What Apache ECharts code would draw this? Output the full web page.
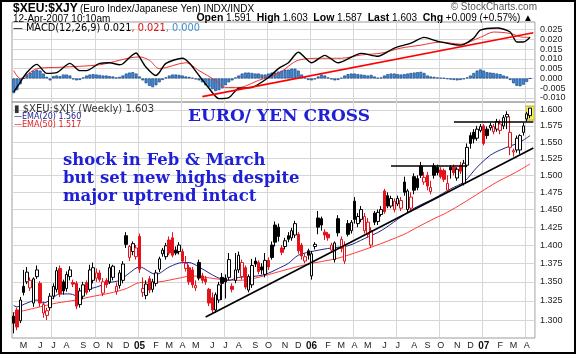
<!DOCTYPE html>
<html>
<head>
<meta charset="utf-8">
<script src="https://cdn.jsdelivr.net/npm/echarts@6.0.0/dist/echarts.min.js"></script>
<style>
  html, body { margin: 0; padding: 0; background: #fff; }
  #chart { width: 576px; height: 354px; }
</style>
</head>
<body>
<div id="chart"></div>
<script>
// weekly bars, first week starts Mon 12-Apr-2004, one empty slot kept at the right edge
const weekCount = 158;

const opens = [
  1.305,1.313,1.299,1.344,1.350,1.342,1.322,1.357,1.348,1.309,1.306,1.316,1.331,1.340,1.368,1.350,1.341,1.357,1.349,1.348,
  1.320,1.331,1.349,1.340,1.352,1.355,1.362,1.335,1.352,1.350,1.356,1.337,1.345,1.352,1.413,1.383,1.391,1.384,1.412,1.336,
  1.332,1.354,1.340,1.348,1.367,1.388,1.384,1.407,1.410,1.393,1.391,1.391,1.368,1.369,1.366,1.342,1.376,1.358,1.354,1.340,
  1.329,1.313,1.326,1.356,1.355,1.356,1.344,1.352,1.366,1.357,1.369,1.339,1.346,1.378,1.376,1.370,1.360,1.379,1.400,1.428,
  1.425,1.396,1.398,1.413,1.410,1.414,1.415,1.400,1.378,1.392,1.358,1.398,1.438,1.437,1.418,1.415,1.393,1.380,1.437,1.395,
  1.378,1.430,1.420,1.462,1.430,1.436,1.420,1.415,1.400,1.445,1.433,1.443,1.477,1.470,1.455,1.450,1.458,1.452,1.490,1.450,
  1.452,1.498,1.495,1.514,1.490,1.500,1.476,1.514,1.512,1.508,1.507,1.478,1.512,1.512,1.496,1.515,1.488,1.515,1.560,1.565,
  1.556,1.568,1.575,1.570,1.572,1.566,1.570,1.568,1.575,1.589,1.542,1.535,1.538,1.538,1.565,1.586,1.591
];
const highs = [
  1.310,1.316,1.330,1.366,1.370,1.356,1.356,1.372,1.351,1.324,1.316,1.335,1.348,1.370,1.372,1.353,1.364,1.371,1.353,1.351,
  1.342,1.350,1.352,1.373,1.376,1.368,1.366,1.355,1.355,1.374,1.373,1.349,1.366,1.378,1.418,1.400,1.405,1.400,1.416,1.356,
  1.352,1.358,1.354,1.366,1.384,1.396,1.403,1.412,1.418,1.398,1.404,1.395,1.385,1.373,1.370,1.352,1.380,1.362,1.358,1.342,
  1.336,1.336,1.350,1.362,1.360,1.389,1.348,1.389,1.391,1.380,1.372,1.360,1.381,1.383,1.379,1.375,1.389,1.383,1.405,1.433,
  1.430,1.400,1.410,1.418,1.424,1.434,1.418,1.403,1.388,1.395,1.392,1.404,1.448,1.440,1.422,1.418,1.403,1.405,1.442,1.412,
  1.405,1.435,1.435,1.468,1.445,1.455,1.445,1.438,1.425,1.448,1.450,1.455,1.480,1.475,1.470,1.466,1.470,1.468,1.498,1.480,
  1.475,1.503,1.500,1.520,1.505,1.505,1.492,1.518,1.516,1.512,1.510,1.500,1.515,1.516,1.512,1.520,1.523,1.548,1.565,1.570,
  1.575,1.578,1.578,1.574,1.580,1.578,1.586,1.585,1.592,1.598,1.590,1.540,1.560,1.562,1.580,1.597,1.603
];
const lows = [
  1.283,1.287,1.296,1.332,1.347,1.338,1.317,1.354,1.317,1.303,1.300,1.312,1.327,1.336,1.330,1.333,1.337,1.352,1.343,1.314,
  1.316,1.327,1.333,1.337,1.348,1.350,1.350,1.331,1.342,1.347,1.352,1.333,1.341,1.348,1.396,1.378,1.386,1.380,1.362,1.330,
  1.327,1.335,1.336,1.344,1.363,1.384,1.380,1.386,1.383,1.386,1.387,1.375,1.364,1.346,1.342,1.338,1.352,1.348,1.346,1.318,
  1.308,1.309,1.322,1.326,1.328,1.352,1.336,1.348,1.362,1.353,1.340,1.336,1.342,1.370,1.360,1.360,1.356,1.366,1.380,1.398,
  1.405,1.386,1.394,1.404,1.406,1.410,1.388,1.380,1.375,1.380,1.353,1.394,1.415,1.420,1.407,1.406,1.390,1.376,1.412,1.390,
  1.374,1.412,1.416,1.430,1.425,1.432,1.416,1.410,1.396,1.428,1.428,1.440,1.444,1.452,1.452,1.446,1.455,1.448,1.470,1.446,
  1.448,1.472,1.478,1.496,1.486,1.478,1.472,1.495,1.500,1.495,1.490,1.474,1.495,1.500,1.492,1.502,1.485,1.512,1.540,1.548,
  1.552,1.565,1.545,1.555,1.568,1.562,1.566,1.562,1.570,1.570,1.530,1.528,1.534,1.532,1.560,1.582,1.587
];
const closes = [
  1.296,1.291,1.326,1.336,1.363,1.352,1.354,1.366,1.322,1.320,1.312,1.331,1.344,1.365,1.334,1.338,1.360,1.366,1.347,1.318,
  1.338,1.346,1.336,1.366,1.369,1.362,1.353,1.350,1.346,1.369,1.371,1.344,1.362,1.374,1.401,1.398,1.402,1.396,1.367,1.341,
  1.347,1.339,1.350,1.362,1.381,1.393,1.399,1.389,1.386,1.389,1.400,1.378,1.375,1.350,1.346,1.345,1.355,1.352,1.350,1.322,
  1.313,1.333,1.346,1.348,1.350,1.380,1.340,1.366,1.386,1.376,1.343,1.357,1.372,1.374,1.364,1.366,1.379,1.370,1.383,1.404,
  1.412,1.390,1.406,1.408,1.420,1.430,1.392,1.385,1.384,1.386,1.388,1.401,1.425,1.428,1.414,1.410,1.400,1.403,1.417,1.408,
  1.400,1.415,1.432,1.436,1.440,1.450,1.440,1.432,1.420,1.432,1.446,1.450,1.447,1.455,1.466,1.462,1.466,1.463,1.475,1.477,
  1.468,1.478,1.482,1.500,1.497,1.484,1.482,1.500,1.504,1.498,1.494,1.488,1.508,1.504,1.509,1.506,1.518,1.542,1.548,1.555,
  1.570,1.574,1.548,1.560,1.576,1.574,1.582,1.578,1.588,1.593,1.565,1.537,1.556,1.560,1.575,1.594,1.603
];

// moving averages and MACD: [week index, value]
const ema20Pts = [
  [0,1.319],[1,1.317],[4,1.322],[7,1.326],[9,1.322],[11,1.326],[14,1.334],[17,1.334],[20,1.330],[22,1.339],
  [25,1.343],[29,1.349],[32,1.352],[35,1.362],[38,1.370],[43,1.360],[47,1.370],[51,1.376],[53,1.376],[56,1.370],
  [59,1.362],[62,1.355],[65,1.352],[68,1.356],[72,1.357],[76,1.360],[80,1.368],[83,1.375],[86,1.386],[91,1.392],
  [96,1.396],[101,1.399],[106,1.409],[111,1.420],[116,1.436],[121,1.452],[127,1.466],[132,1.480],[136,1.490],
  [140,1.512],[144,1.530],[147,1.538],[150,1.544],[153,1.550],[156,1.560]
];
const ema50Pts = [
  [0,1.309],[3,1.312],[8,1.317],[13,1.322],[19,1.326],[23,1.330],[29,1.335],[34,1.341],[38,1.349],[44,1.350],
  [50,1.355],[54,1.358],[58,1.356],[63,1.353],[68,1.352],[73,1.355],[78,1.361],[88,1.373],[98,1.382],[108,1.397],
  [118,1.415],[122,1.425],[127,1.437],[131,1.446],[136,1.460],[141,1.475],[146,1.490],[150,1.500],[153,1.508],[156,1.517]
];
const macdPts = [
  [0,-0.0070],[1,-0.0045],[4,0.0030],[7,0.0072],[10,0.0026],[13,0.0030],[17,0.0077],[20,0.0040],[22,0.0040],
  [26,0.0077],[29,0.0080],[32,0.0070],[33,0.0075],[37,0.0130],[38,0.0110],[40,0.0057],[43,0.0015],[44,0.0030],
  [46,0.0077],[51,0.0103],[53,0.0080],[56,0.0015],[59,-0.0050],[62,-0.0103],[65,-0.0098],[68,-0.0050],[72,-0.0046],
  [77,0.0005],[80,0.0050],[83,0.0080],[86,0.0134],[90,0.0080],[94,0.0118],[98,0.0080],[105,0.0128],[110,0.0113],
  [115,0.0155],[120,0.0180],[124,0.0210],[128,0.0190],[135,0.0170],[139,0.0206],[141,0.0247],[146,0.0258],
  [150,0.0237],[152,0.0186],[154,0.0186],[156,0.0210]
];
const signalPts = [
  [0,0.0040],[2,0.0000],[7,0.0050],[14,0.0057],[26,0.0070],[38,0.0110],[41,0.0093],[44,0.0050],[52,0.0080],
  [56,0.0040],[61,-0.0010],[64,-0.0046],[68,-0.0046],[74,-0.0010],[80,0.0026],[86,0.0093],[93,0.0103],[99,0.0103],
  [105,0.0120],[111,0.0129],[117,0.0155],[123,0.0170],[129,0.0186],[135,0.0175],[141,0.0210],[145,0.0237],
  [150,0.0230],[154,0.0210],[156,0.0210]
];
const histVals = [
  -0.0075,-0.0060,-0.0030,0.0000,0.0020,0.0030,0.0040,0.0045,0.0040,0.0025,0.0008,-0.0010,0.0012,0.0015,0.0012,0.0020,
  0.0020,0.0015,-0.0005,-0.0010,-0.0008,0.0005,0.0015,0.0020,0.0022,0.0020,0.0018,0.0015,0.0015,0.0012,0.0010,0.0005,
  0.0008,0.0015,0.0025,0.0030,0.0032,0.0025,0.0010,-0.0010,-0.0025,-0.0038,-0.0045,-0.0035,-0.0020,-0.0008,0.0005,0.0015,
  0.0020,0.0020,0.0018,0.0015,0.0010,0.0008,0.0003,-0.0005,-0.0010,-0.0020,-0.0035,-0.0045,-0.0055,-0.0065,-0.0060,-0.0050,
  -0.0035,-0.0020,-0.0010,0.0005,0.0015,0.0025,0.0030,0.0030,0.0028,0.0025,0.0025,0.0020,0.0020,0.0025,0.0030,0.0030,
  0.0035,0.0040,0.0045,0.0045,0.0050,0.0050,0.0040,0.0020,0.0005,-0.0008,-0.0010,-0.0005,0.0010,0.0020,0.0015,0.0005,
  -0.0005,-0.0010,-0.0008,0.0003,0.0015,0.0022,0.0025,0.0025,0.0022,0.0020,0.0018,0.0015,0.0018,0.0010,0.0003,0.0005,
  0.0015,0.0022,0.0025,0.0025,0.0022,0.0020,0.0022,0.0025,0.0028,0.0030,0.0032,0.0034,0.0028,0.0015,0.0010,0.0008,
  0.0005,0.0003,0.0002,-0.0003,-0.0006,-0.0008,-0.0010,-0.0008,-0.0004,0.0005,0.0015,0.0028,0.0040,0.0046,0.0040,0.0032,
  0.0030,0.0028,0.0025,0.0022,0.0015,0.0010,-0.0008,-0.0025,-0.0038,-0.0040,-0.0032,-0.0018,0.0000
];

// hand-drawn lines on the original: [week index, price]
const supportLine = [[58, 1.304], [157, 1.541]];
const resistLow = [[114, 1.514], [137, 1.514]];
const resistHigh = [[133, 1.582], [157, 1.582]];
const macdTrend = [[57, -0.0093], [157, 0.0233]];

const priceTicks = [1.300,1.325,1.350,1.375,1.400,1.425,1.450,1.475,1.500,1.525,1.550,1.575,1.600];
const macdTicks = [-0.010,-0.005,0.000,0.005,0.010,0.015,0.020,0.025];
const monthLetters = ['J','F','M','A','M','J','J','A','S','O','N','D'];

const L = Math.log;
const t0 = Date.UTC(2004, 3, 12);
const dates = [];
for (let i = 0; i < weekCount; i++) dates.push(new Date(t0 + i * 7 * 864e5));
const cats = dates.map(d => d.toISOString().slice(0, 10));
const isMonthStart = i => dates[i].getUTCDate() <= 7;
const isQuarterStart = i => isMonthStart(i) && dates[i].getUTCMonth() % 3 === 0;

const RED = '#e3121b';
const candleData = opens.map((o, i) => {
  const c = closes[i];
  const prev = i > 0 ? closes[i - 1] : c;
  const edge = c < prev ? RED : '#000';
  const fill = c > o ? '#fff' : edge;
  return {
    value: [L(o), L(c), L(lows[i]), L(highs[i])],
    itemStyle: { color: fill, color0: fill, borderColor: edge, borderColor0: edge }
  };
});
const logPts = pts => pts.map(p => [p[0], L(p[1])]);
const seg = pts => [{ coord: pts[0] }, { coord: pts[1] }];
const last = opens.length - 1;

const chart = echarts.init(document.getElementById('chart'));

const gridLine = { show: true, lineStyle: { color: '#d6d6d6', width: 1 } };
const axisFont = { fontFamily: 'Liberation Sans, Arial', fontSize: 9, color: '#222' };
const uiFont = 'DejaVu Sans, Verdana';

const option = {
  animation: false,
  backgroundColor: '#fff',
  grid: [
    { left: 12, right: 41, top: 22, height: 80, show: true, borderColor: '#9c9c9c', borderWidth: 1 },
    { left: 12, right: 41, top: 102, height: 236, show: true, borderColor: '#9c9c9c', borderWidth: 1 }
  ],
  xAxis: [
    {
      type: 'category', gridIndex: 0, data: cats, boundaryGap: true,
      axisLine: { show: false }, axisTick: { show: false }, axisLabel: { show: false },
      splitLine: Object.assign({ interval: i => isQuarterStart(i) }, gridLine)
    },
    {
      type: 'category', gridIndex: 1, data: cats, boundaryGap: true,
      axisLine: { show: false }, axisTick: { show: false },
      axisLabel: Object.assign({
        interval: i => isMonthStart(i),
        margin: 3,
        formatter: v => {
          const m = +v.slice(5, 7) - 1;
          return m === 0 ? '{yr|' + v.slice(2, 4) + '}' : monthLetters[m];
        },
        rich: { yr: { fontWeight: 'bold', fontSize: 10, fontFamily: 'Liberation Sans, Arial', color: '#111' } }
      }, axisFont),
      splitLine: Object.assign({ interval: i => isQuarterStart(i) }, gridLine)
    }
  ],
  yAxis: [
    {
      type: 'value', gridIndex: 0, position: 'right', min: -0.01204, max: 0.02883,
      axisLine: { show: false },
      axisTick: { show: false, customValues: macdTicks },
      axisLabel: Object.assign({ customValues: macdTicks, margin: 5, formatter: v => v.toFixed(3) }, axisFont),
      splitLine: gridLine
    },
    {
      type: 'value', gridIndex: 1, position: 'right', min: L(1.2771), max: L(1.6127),
      axisLine: { show: false },
      axisTick: { show: false, customValues: priceTicks.map(L) },
      axisLabel: Object.assign({ customValues: priceTicks.map(L), margin: 5, formatter: v => Math.exp(v).toFixed(3) }, axisFont),
      splitLine: gridLine
    }
  ],
  series: [
    {
      name: 'hist', type: 'bar', xAxisIndex: 0, yAxisIndex: 0, data: histVals,
      barCategoryGap: '12%', z: 2,
      itemStyle: { color: '#3f8ad6', borderColor: '#1a4a8c', borderWidth: 0.7 }
    },
    {
      name: 'signal', type: 'line', xAxisIndex: 0, yAxisIndex: 0, data: signalPts,
      smooth: 0.3, symbol: 'none', z: 3, lineStyle: { color: '#f03030', width: 1 }
    },
    {
      name: 'macd', type: 'line', xAxisIndex: 0, yAxisIndex: 0, data: macdPts,
      smooth: 0.25, symbol: 'none', z: 4, lineStyle: { color: '#000', width: 1.4 },
      markLine: {
        silent: true, symbol: 'none', label: { show: false },
        lineStyle: { color: '#ff0000', width: 1.6, type: 'solid' },
        data: [seg(macdTrend)]
      }
    },
    {
      name: 'mark', type: 'scatter', xAxisIndex: 1, yAxisIndex: 1, z: 1, silent: true,
      symbol: 'rect', symbolSize: [8, 14],
      itemStyle: { color: '#f4f03c', borderColor: '#b8a800', borderWidth: 1 },
      data: [[last, (L(highs[last]) + L(lows[last])) / 2]]
    },
    {
      name: 'ema50', type: 'line', xAxisIndex: 1, yAxisIndex: 1, data: logPts(ema50Pts),
      smooth: 0.3, symbol: 'none', z: 2, lineStyle: { color: '#ff3b3b', width: 1 }
    },
    {
      name: 'ema20', type: 'line', xAxisIndex: 1, yAxisIndex: 1, data: logPts(ema20Pts),
      smooth: 0.3, symbol: 'none', z: 2, lineStyle: { color: '#22228c', width: 1 }
    },
    {
      name: 'price', type: 'candlestick', xAxisIndex: 1, yAxisIndex: 1, data: candleData,
      barWidth: 3, z: 3,
      itemStyle: { borderWidth: 1 },
      markLine: {
        silent: true, symbol: 'none', label: { show: false },
        lineStyle: { color: '#000', width: 1.7, type: 'solid' },
        data: [seg(logPts(supportLine)), seg(logPts(resistLow)), seg(logPts(resistHigh))]
      }
    }
  ],
  graphic: [
    { type: 'rect', shape: { x: 1, y: 1, width: 574, height: 352 }, style: { fill: null, stroke: '#000', lineWidth: 2 }, z: 100 },
    { type: 'text', x: 13, y: 3, style: { text: '$XEU:$XJY', font: 'bold 12px Liberation Sans, Arial', fill: '#000' } },
    { type: 'text', x: 80, y: 4, style: {
        text: '(Euro Index/Japanese Yen) {s|INDX/INDX}', font: '10px Liberation Sans, Arial', fill: '#000',
        rich: { s: { fontSize: 10, fontFamily: 'Liberation Sans, Arial' } } } },
    { type: 'text', x: 13, y: 14, style: { text: '12-Apr-2007 10:10am', font: '10px Liberation Sans, Arial', fill: '#000' } },
    { type: 'text', x: 537, y: 2, style: { text: '\u00a9 StockCharts.com', font: '10px Liberation Sans, Arial', fill: '#555', align: 'right' } },
    { type: 'text', x: 533, y: 13, style: {
        text: '{b|Open} 1.591  {b|High} 1.603  {b|Low} 1.587  {b|Last} 1.603  {b|Chg} +0.009 (+0.57%) \u25b2',
        font: '10px Liberation Sans, Arial', fill: '#000', align: 'right',
        rich: { b: { fontWeight: 'bold', fontSize: 10.5, fontFamily: 'Liberation Sans, Arial' } } } },
    { type: 'text', x: 13, y: 23, z: 50, style: {
        text: '\u2014 MACD(12,26,9) 0.021{r|, 0.021}{c|, 0.000}', font: '9.8px ' + uiFont, fill: '#000',
        rich: {
          r: { fill: '#e01010', color: '#e01010', fontSize: 9.8, fontFamily: uiFont },
          c: { fill: '#3a8fd0', color: '#3a8fd0', fontSize: 9.8, fontFamily: uiFont }
        } } },
    { type: 'text', x: 14, y: 104, z: 50, style: { text: '\u25ae $XEU:$XJY (Weekly) 1.603', font: '10px ' + uiFont, fill: '#333' } },
    { type: 'text', x: 14, y: 113, z: 50, style: { text: '\u2014EMA(20) 1.560', font: '8px ' + uiFont, fill: '#22228c' } },
    { type: 'text', x: 14, y: 121, z: 50, style: { text: '\u2014EMA(50) 1.517', font: '8px ' + uiFont, fill: '#e02020' } },
    { type: 'text', x: 188, y: 108, z: 50, style: { text: 'EURO/ YEN CROSS', font: 'bold 17px DejaVu Serif', fill: '#1f1fd6' } },
    { type: 'text', x: 63, y: 152, z: 50, style: {
        text: 'shock in Feb & March\nbut set new highs despite\nmajor uptrend intact',
        font: 'bold 16.5px DejaVu Serif', fill: '#1f1fd6', lineHeight: 18 } }
  ]
};

chart.setOption(option);
</script>
</body>
</html>
